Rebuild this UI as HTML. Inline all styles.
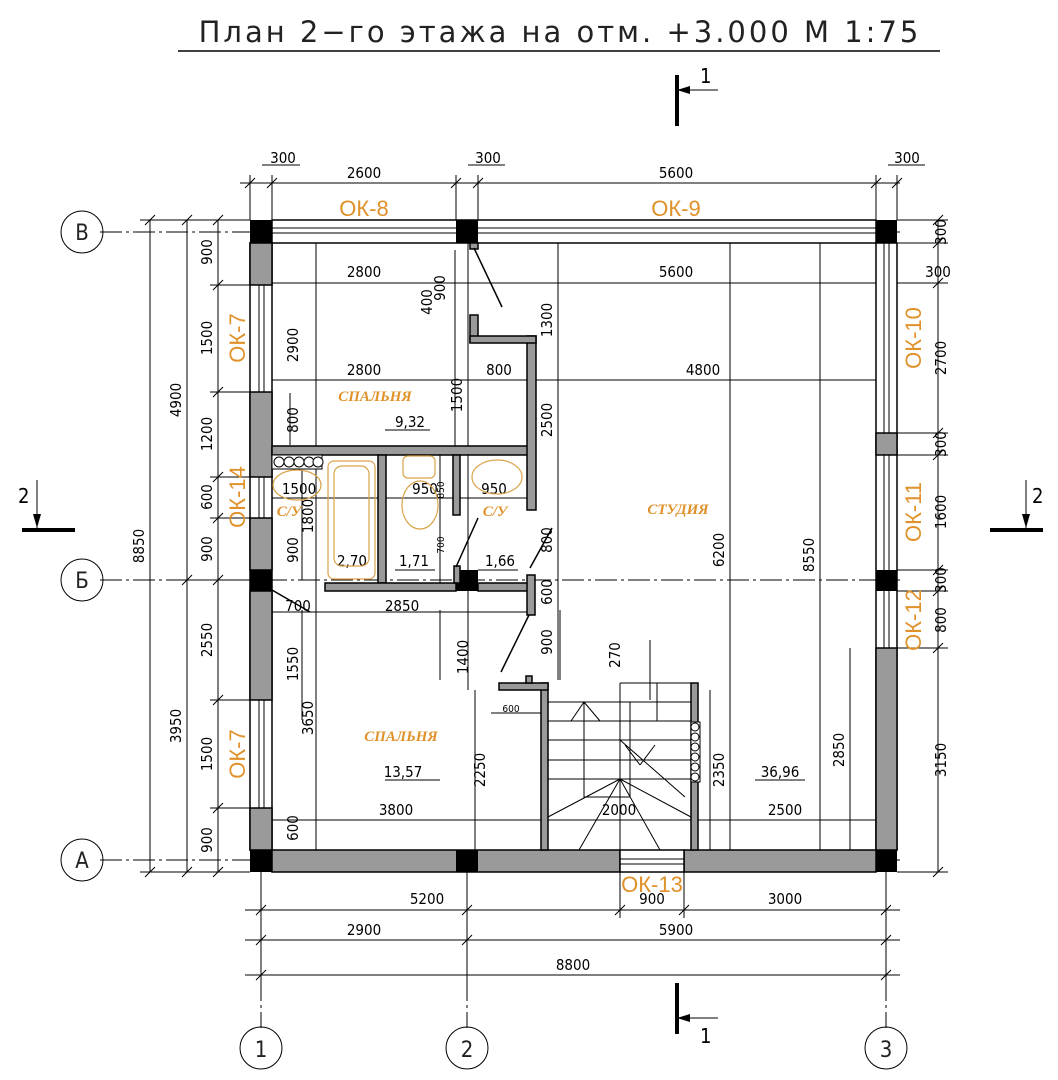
<!DOCTYPE html>
<html><head><meta charset="utf-8"><style>
html,body{margin:0;padding:0;background:#fff;}
svg{display:block;font-family:"DejaVu Sans Condensed","Liberation Sans",sans-serif;}
.d{stroke:#000;stroke-width:1;fill:none}
.t{font-size:15px;fill:#000}
.ok{font-size:22px;fill:#e0912a;font-family:"Liberation Sans",sans-serif}
.rm{font-size:15px;fill:#e0912a;font-style:italic;font-weight:bold;font-family:"Liberation Serif",serif}
.g{fill:#9a9a9a;stroke:#000;stroke-width:1.5}
.k{fill:#000}
</style></head><body>
<svg width="1058" height="1080" viewBox="0 0 1058 1080" xmlns="http://www.w3.org/2000/svg">
<!-- title -->
<text x="560" y="42" text-anchor="middle" style="font-size:29px;letter-spacing:3px;font-family:'DejaVu Sans','Liberation Sans',sans-serif;font-weight:normal" fill="#222">План 2−го этажа на отм. +3.000 М 1:75</text>
<line x1="178" y1="51" x2="940" y2="51" stroke="#000" stroke-width="1.5"/>

<!-- section marks -->
<g stroke="#000">
<line x1="677" y1="75" x2="677" y2="126" stroke-width="4"/>
<line x1="677" y1="90" x2="718" y2="90" stroke-width="1"/>
<line x1="677" y1="983" x2="677" y2="1034" stroke-width="4"/>
<line x1="677" y1="1018" x2="718" y2="1018" stroke-width="1"/>
<line x1="22" y1="530" x2="75" y2="530" stroke-width="4"/>
<line x1="37" y1="480" x2="37" y2="528" stroke-width="1"/>
<line x1="990" y1="530" x2="1043" y2="530" stroke-width="4"/>
<line x1="1026" y1="480" x2="1026" y2="528" stroke-width="1"/>
</g>
<polygon points="677,90 690,86 690,94" fill="#000"/>
<polygon points="677,1018 690,1014 690,1022" fill="#000"/>
<polygon points="37,528 33,514 41,514" fill="#000"/>
<polygon points="1026,528 1022,514 1030,514" fill="#000"/>
<text x="700" y="83" style="font-size:20px">1</text>
<text x="700" y="1043" style="font-size:20px">1</text>
<text x="18" y="503" style="font-size:20px">2</text>
<text x="1032" y="503" style="font-size:20px">2</text>

<!-- grid axes -->
<g class="d" stroke-dasharray="22,4,3,4" stroke="#888">
<line x1="100" y1="232" x2="900" y2="232"/>
<line x1="100" y1="580" x2="900" y2="580"/>
<line x1="100" y1="860" x2="900" y2="860"/>
<line x1="261" y1="880" x2="261" y2="1028"/>
<line x1="467" y1="880" x2="467" y2="1028"/>
<line x1="886" y1="880" x2="886" y2="1028"/>
</g>
<g class="d" stroke="#555">
<circle cx="82" cy="232" r="21"/><circle cx="82" cy="580" r="21"/><circle cx="82" cy="860" r="21"/>
<circle cx="261" cy="1048" r="21"/><circle cx="467" cy="1048" r="21"/><circle cx="886" cy="1048" r="21"/>
</g>
<g style="font-size:22px" text-anchor="middle" fill="#222">
<text x="82" y="240">В</text><text x="82" y="588">Б</text><text x="82" y="868">А</text>
<text x="261" y="1057">1</text><text x="467" y="1057">2</text><text x="886" y="1057">3</text>
</g>

<!-- dimension lines outside -->
<g class="d">
<line x1="240" y1="183" x2="900" y2="183"/>
<line x1="250" y1="175" x2="250" y2="220"/><line x1="272" y1="175" x2="272" y2="220"/>
<line x1="456" y1="175" x2="456" y2="220"/><line x1="478" y1="175" x2="478" y2="220"/>
<line x1="876" y1="175" x2="876" y2="220"/><line x1="897" y1="175" x2="897" y2="220"/>
<line x1="262" y1="165" x2="300" y2="165"/><line x1="468" y1="165" x2="505" y2="165"/><line x1="888" y1="165" x2="925" y2="165"/>
<line x1="150" y1="220" x2="150" y2="872"/>
<line x1="187" y1="220" x2="187" y2="872"/>
<line x1="218" y1="220" x2="218" y2="872"/>
<line x1="140" y1="220" x2="250" y2="220"/><line x1="140" y1="872" x2="250" y2="872"/>
<line x1="180" y1="580" x2="250" y2="580"/>
<line x1="210" y1="285" x2="250" y2="285"/><line x1="210" y1="392" x2="250" y2="392"/>
<line x1="210" y1="477" x2="250" y2="477"/><line x1="210" y1="518" x2="250" y2="518"/>
<line x1="210" y1="700" x2="250" y2="700"/><line x1="210" y1="808" x2="250" y2="808"/>
<line x1="938" y1="220" x2="938" y2="872"/>
<line x1="897" y1="220" x2="948" y2="220"/><line x1="897" y1="243" x2="948" y2="243"/>
<line x1="897" y1="283" x2="948" y2="283"/>
<line x1="897" y1="433" x2="948" y2="433"/><line x1="897" y1="455" x2="948" y2="455"/>
<line x1="897" y1="570" x2="948" y2="570"/><line x1="897" y1="591" x2="948" y2="591"/>
<line x1="897" y1="648" x2="948" y2="648"/><line x1="897" y1="872" x2="948" y2="872"/>
<line x1="245" y1="910" x2="900" y2="910"/>
<line x1="245" y1="940" x2="900" y2="940"/>
<line x1="245" y1="975" x2="900" y2="975"/>
<line x1="261" y1="872" x2="261" y2="985"/>
<line x1="467" y1="872" x2="467" y2="985"/>
<line x1="886" y1="872" x2="886" y2="985"/>
<line x1="620" y1="872" x2="620" y2="918"/><line x1="684" y1="872" x2="684" y2="918"/>
</g>
<g stroke="#000" stroke-width="1">
<path d="M245,188l10,-10M267,188l10,-10M451,188l10,-10M473,188l10,-10M871,188l10,-10M892,188l10,-10"/>
<path d="M145,225l10,-10M145,877l10,-10M182,225l10,-10M182,585l10,-10M182,877l10,-10"/>
<path d="M213,225l10,-10M213,290l10,-10M213,397l10,-10M213,482l10,-10M213,523l10,-10M213,585l10,-10M213,705l10,-10M213,813l10,-10M213,877l10,-10"/>
<path d="M933,225l10,-10M933,248l10,-10M933,288l10,-10M933,438l10,-10M933,460l10,-10M933,575l10,-10M933,596l10,-10M933,653l10,-10M933,877l10,-10"/>
<path d="M256,915l10,-10M462,915l10,-10M615,915l10,-10M679,915l10,-10M881,915l10,-10M256,945l10,-10M462,945l10,-10M881,945l10,-10M256,980l10,-10M881,980l10,-10"/>
</g>
<g class="t" text-anchor="middle">
<text x="283" y="163">300</text><text x="488" y="163">300</text><text x="907" y="163">300</text>
<text x="364" y="178">2600</text><text x="676" y="178">5600</text>
<text x="427" y="904">5200</text><text x="652" y="904">900</text><text x="785" y="904">3000</text>
<text x="364" y="935">2900</text><text x="676" y="935">5900</text>
<text x="573" y="970">8800</text>
<text x="938" y="277">300</text>
</g>
<g class="t" text-anchor="middle">
<text transform="translate(144,546) rotate(-90)">8850</text>
<text transform="translate(181,400) rotate(-90)">4900</text>
<text transform="translate(181,726) rotate(-90)">3950</text>
<text transform="translate(212,252) rotate(-90)">900</text>
<text transform="translate(212,338) rotate(-90)">1500</text>
<text transform="translate(212,434) rotate(-90)">1200</text>
<text transform="translate(212,497) rotate(-90)">600</text>
<text transform="translate(212,549) rotate(-90)">900</text>
<text transform="translate(212,640) rotate(-90)">2550</text>
<text transform="translate(212,754) rotate(-90)">1500</text>
<text transform="translate(212,840) rotate(-90)">900</text>
<text transform="translate(946,232) rotate(-90)">300</text>
<text transform="translate(946,358) rotate(-90)">2700</text>
<text transform="translate(946,444) rotate(-90)">300</text>
<text transform="translate(946,512) rotate(-90)">1600</text>
<text transform="translate(946,580) rotate(-90)">300</text>
<text transform="translate(946,620) rotate(-90)">800</text>
<text transform="translate(946,760) rotate(-90)">3150</text>
</g>

<!-- outer walls -->
<rect x="272" y="220" width="604" height="23" fill="#fff" stroke="#000" stroke-width="1.5"/>
<line x1="272" y1="228" x2="876" y2="228" stroke="#000"/><line x1="272" y1="233" x2="876" y2="233" stroke="#000"/>
<rect x="250" y="243" width="22" height="607" fill="#fff" stroke="#000" stroke-width="1.5"/>
<line x1="259" y1="243" x2="259" y2="850" stroke="#000"/><line x1="264" y1="243" x2="264" y2="850" stroke="#000"/>
<rect x="876" y="243" width="21" height="607" fill="#fff" stroke="#000" stroke-width="1.5"/>
<line x1="884" y1="243" x2="884" y2="850" stroke="#000"/><line x1="889" y1="243" x2="889" y2="850" stroke="#000"/>
<g class="g">
<rect x="250" y="243" width="22" height="42"/><rect x="250" y="392" width="22" height="85"/><rect x="250" y="518" width="22" height="52"/>
<rect x="250" y="591" width="22" height="109"/><rect x="250" y="808" width="22" height="42"/>
<rect x="876" y="433" width="21" height="22"/><rect x="876" y="648" width="21" height="202"/>
<rect x="272" y="850" width="348" height="22"/><rect x="684" y="850" width="192" height="22"/>
</g>
<rect x="620" y="850" width="64" height="22" fill="#fff" stroke="#000" stroke-width="1.5"/>
<line x1="620" y1="859" x2="684" y2="859" stroke="#000"/><line x1="620" y1="864" x2="684" y2="864" stroke="#000"/>
<g class="k">
<rect x="250" y="220" width="22" height="23"/><rect x="456" y="220" width="22" height="23"/><rect x="876" y="220" width="21" height="23"/>
<rect x="250" y="570" width="22" height="21"/><rect x="456" y="570" width="22" height="21"/><rect x="876" y="570" width="21" height="21"/>
<rect x="250" y="850" width="22" height="22"/><rect x="456" y="850" width="22" height="22"/><rect x="876" y="850" width="21" height="22"/>
</g>

<!-- inner dimension lines -->
<g class="d" stroke-width="0.8">
<line x1="272" y1="283" x2="876" y2="283"/>
<line x1="272" y1="380" x2="876" y2="380"/>
<line x1="316" y1="243" x2="316" y2="850"/>
<line x1="455" y1="250" x2="455" y2="450"/>
<line x1="468" y1="243" x2="468" y2="690"/>
<line x1="558" y1="243" x2="558" y2="680"/>
<line x1="730" y1="243" x2="730" y2="850"/>
<line x1="820" y1="243" x2="820" y2="850"/>
<line x1="850" y1="648" x2="850" y2="850"/>
<line x1="272" y1="820" x2="876" y2="820"/>
<line x1="302" y1="470" x2="302" y2="580"/><line x1="302" y1="610" x2="302" y2="720"/>
<line x1="290" y1="393" x2="290" y2="445"/>
<line x1="272" y1="498" x2="535" y2="498"/>
<line x1="272" y1="612" x2="530" y2="612"/>
<line x1="475" y1="690" x2="475" y2="850"/>
<line x1="491" y1="713" x2="541" y2="713"/>
<line x1="560" y1="610" x2="560" y2="680"/>
<line x1="650" y1="640" x2="650" y2="700"/>
<line x1="710" y1="690" x2="710" y2="850"/>
<line x1="440" y1="610" x2="440" y2="680"/>
<line x1="440" y1="455" x2="440" y2="583"/>
</g>
<g class="t" text-anchor="middle">
<text x="364" y="277">2800</text><text x="676" y="277">5600</text>
<text x="364" y="375">2800</text><text x="499" y="375">800</text><text x="703" y="375">4800</text>
<text x="299" y="494">1500</text><text x="425" y="494">950</text><text x="494" y="494">950</text>
<text x="402" y="611">2850</text><text x="298" y="611">700</text>
<text x="396" y="815">3800</text><text x="619" y="815">2000</text><text x="785" y="815">2500</text>
<text x="511" y="712" style="font-size:10px">600</text>
<text x="410" y="427">9,32</text><text x="352" y="566">2,70</text><text x="414" y="566">1,71</text><text x="500" y="566">1,66</text>
<text x="403" y="777">13,57</text><text x="780" y="777">36,96</text>
</g>
<g stroke="#000"><line x1="385" y1="430" x2="430" y2="430"/><line x1="395" y1="570" x2="435" y2="570"/><line x1="478" y1="570" x2="518" y2="570"/><line x1="385" y1="780" x2="440" y2="780"/><line x1="755" y1="780" x2="805" y2="780"/></g>
<g class="t" text-anchor="middle">
<text transform="translate(298,345) rotate(-90)">2900</text>
<text transform="translate(298,420) rotate(-90)">800</text>
<text transform="translate(313,516) rotate(-90)">1800</text>
<text transform="translate(298,550) rotate(-90)">900</text>
<text transform="translate(298,664) rotate(-90)">1550</text>
<text transform="translate(313,718) rotate(-90)">3650</text>
<text transform="translate(298,828) rotate(-90)">600</text>
<text transform="translate(445,288) rotate(-90)">900</text>
<text transform="translate(432,302) rotate(-90)">400</text>
<text transform="translate(462,395) rotate(-90)">1500</text>
<text transform="translate(552,320) rotate(-90)">1300</text>
<text transform="translate(552,420) rotate(-90)">2500</text>
<text transform="translate(552,540) rotate(-90)">800</text>
<text transform="translate(552,592) rotate(-90)">600</text>
<text transform="translate(552,642) rotate(-90)">900</text>
<text transform="translate(468,657) rotate(-90)">1400</text>
<text transform="translate(485,770) rotate(-90)">2250</text>
<text transform="translate(620,655) rotate(-90)">270</text>
<text transform="translate(724,770) rotate(-90)">2350</text>
<text transform="translate(724,550) rotate(-90)">6200</text>
<text transform="translate(814,555) rotate(-90)">8550</text>
<text transform="translate(844,750) rotate(-90)">2850</text>
<text transform="translate(444,490) rotate(-90)" style="font-size:10px">850</text>
<text transform="translate(444,545) rotate(-90)" style="font-size:10px">700</text>
</g>

<!-- interior walls -->
<g class="g">
<rect x="272" y="446" width="258" height="9"/>
<rect x="527" y="336" width="9" height="174"/>
<rect x="470" y="315" width="8" height="27"/>
<rect x="470" y="336" width="66" height="7"/>
<rect x="378" y="455" width="8" height="128"/>
<rect x="453" y="455" width="7" height="60"/>
<rect x="325" y="583" width="131" height="8"/>
<rect x="478" y="583" width="52" height="8"/>
<rect x="527" y="575" width="8" height="40"/>
<rect x="541" y="683" width="7" height="167"/>
<rect x="499" y="683" width="49" height="7"/>
<rect x="691" y="683" width="7" height="167"/>
<rect x="470" y="243" width="8" height="6"/>
<rect x="526" y="676" width="6" height="7"/>
<rect x="454" y="566" width="6" height="17"/>
</g>
<!-- doors -->
<g stroke="#000" stroke-width="1.5">
<line x1="474" y1="248" x2="502" y2="307"/>
<line x1="456" y1="567" x2="478" y2="518"/>
<line x1="530" y1="568" x2="552" y2="528"/>
<line x1="529" y1="615" x2="501" y2="672"/>
<line x1="272" y1="590" x2="310" y2="612"/>
</g>
<!-- stairs -->
<g stroke="#000" stroke-width="1" fill="none">
<path d="M548,702H691M548,721H691M548,740H691M548,760H691M548,779H691"/>
<rect x="584" y="702" width="46" height="95"/>
<path d="M620,683H691V702M620,683V850M657,683V721"/>
<path d="M571,721L584,702L600,721"/>
<path d="M620,740L685,797M640,765L655,745M640,765L625,745"/>
<path d="M620,779L548,817M620,779L691,817M620,779L579,850M620,779L660,850"/>
</g>
<g fill="#fff" stroke="#000">
<rect x="691" y="722" width="9" height="60"/>
<circle cx="695" cy="727" r="4"/><circle cx="695" cy="737" r="4"/><circle cx="695" cy="747" r="4"/><circle cx="695" cy="757" r="4"/><circle cx="695" cy="767" r="4"/><circle cx="695" cy="777" r="4"/>
<rect x="272" y="455" width="50" height="14"/>
<circle cx="279" cy="462" r="5"/><circle cx="289" cy="462" r="5"/><circle cx="299" cy="462" r="5"/><circle cx="309" cy="462" r="5"/><circle cx="318" cy="462" r="5"/>
</g>
<!-- fixtures -->
<g fill="none" stroke="#d9a34a" stroke-width="1.2">
<rect x="328" y="461" width="47" height="118" rx="6"/>
<rect x="334" y="466" width="35" height="100" rx="8"/>
<ellipse cx="297" cy="485" rx="24" ry="15"/>
<ellipse cx="497" cy="477" rx="25" ry="17"/>
<ellipse cx="420" cy="505" rx="18" ry="24"/>
<rect x="403" y="456" width="32" height="22" rx="5"/>
</g>
<!-- window labels -->
<g class="ok" text-anchor="middle">
<text x="364" y="216">ОК-8</text><text x="676" y="216">ОК-9</text>
<text x="652" y="892">ОК-13</text>
<text transform="translate(245,338) rotate(-90)">ОК-7</text>
<text transform="translate(245,497) rotate(-90)">ОК-14</text>
<text transform="translate(245,754) rotate(-90)">ОК-7</text>
<text transform="translate(921,338) rotate(-90)">ОК-10</text>
<text transform="translate(921,512) rotate(-90)">ОК-11</text>
<text transform="translate(921,620) rotate(-90)">ОК-12</text>
</g>
<g class="rm" text-anchor="middle">
<text x="375" y="401">СПАЛЬНЯ</text>
<text x="401" y="741">СПАЛЬНЯ</text>
<text x="678" y="514">СТУДИЯ</text>
<text x="289" y="516">С/У</text>
<text x="495" y="516">С/У</text>
</g>
</svg>
</body></html>
